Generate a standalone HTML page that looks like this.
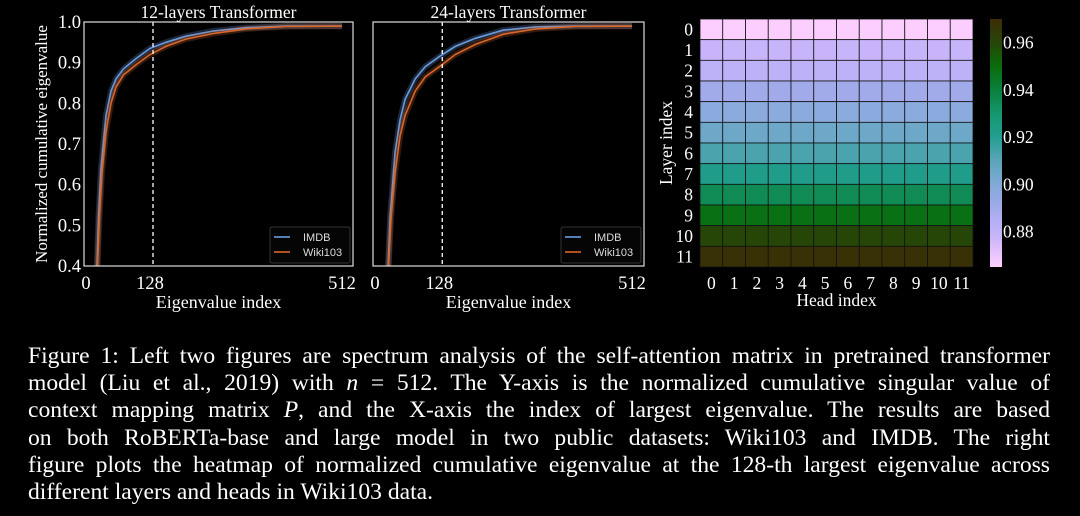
<!DOCTYPE html>
<html><head><meta charset="utf-8">
<style>
html,body{margin:0;padding:0;background:#000;width:1080px;height:516px;overflow:hidden}
svg text{font-family:"Liberation Serif",serif;fill:#fff}
#cap{position:absolute;left:28px;top:343px;width:1022px;font-family:"Liberation Serif",serif;font-size:23.6px;line-height:27.2px;color:#fff}
#cap div{text-align:justify;text-align-last:justify;white-space:nowrap}
#cap div.last{text-align-last:left}
</style></head><body>
<svg id="fig" width="1080" height="330" style="position:absolute;left:0;top:0"></svg>
<div id="cap">
<div>Figure 1: Left two figures are spectrum analysis of the self-attention matrix in pretrained transformer</div>
<div>model (Liu et al., 2019) with <i>n</i> = 512. The Y-axis is the normalized cumulative singular value of</div>
<div>context mapping matrix <i>P</i>, and the X-axis the index of largest eigenvalue. The results are based</div>
<div>on both RoBERTa-base and large model in two public datasets: Wiki103 and IMDB. The right</div>
<div>figure plots the heatmap of normalized cumulative eigenvalue at the 128-th largest eigenvalue across</div>
<div class="last">different layers and heads in Wiki103 data.</div>
</div>
<script>
const imdb12X=[22,25,30,40,50,60,75,100,128,160,200,256,320,400,512];
const imdb12Y=[0.40,0.52,0.64,0.77,0.83,0.86,0.885,0.91,0.935,0.95,0.965,0.978,0.986,0.99,0.99];
const wiki12X=[23,27,32,40,50,60,75,100,128,160,200,256,320,400,512];
const wiki12Y=[0.40,0.52,0.63,0.73,0.80,0.84,0.87,0.895,0.92,0.94,0.958,0.972,0.983,0.989,0.99];
const imdb24X=[26,30,40,50,60,80,100,128,160,200,256,320,400,512];
const imdb24Y=[0.40,0.52,0.68,0.76,0.81,0.86,0.89,0.915,0.94,0.96,0.98,0.988,0.99,0.99];
const wiki24X=[27,32,40,50,60,80,100,128,160,200,256,320,400,512];
const wiki24Y=[0.40,0.52,0.63,0.72,0.77,0.83,0.865,0.89,0.92,0.945,0.97,0.983,0.989,0.99];
const yTicks=[0.4,0.5,0.6,0.7,0.8,0.9,1.0];
const xTicks=[0,128,512];
const layerVals=[0.866,0.878,0.882,0.890,0.897,0.905,0.913,0.922,0.935,0.948,0.960,0.968];
const cbTicks=[0.88,0.90,0.92,0.94,0.96];

const NS="http://www.w3.org/2000/svg";
const svg=document.getElementById('fig');
function mk(t,a,p){const e=document.createElementNS(NS,t);for(const k in a)e.setAttribute(k,a[k]);(p||svg).appendChild(e);return e;}
function txt(x,y,s,size,anchor,p){const e=mk('text',{x:x,y:y,'font-size':size,'text-anchor':anchor||'middle'},p);e.textContent=s;return e;}

const panels=[
 {x0:84,x1:353,sx0:86,sx1:342,title:'12-layers Transformer',name:'panel-12-layers',series:[[imdb12X,imdb12Y,'#6a9be0','imdb'],[wiki12X,wiki12Y,'#d8662a','wiki103']],ylab:true},
 {x0:373,x1:644,sx0:375,sx1:632,title:'24-layers Transformer',name:'panel-24-layers',series:[[imdb24X,imdb24Y,'#6a9be0','imdb'],[wiki24X,wiki24Y,'#d8662a','wiki103']],ylab:false}
];
const yTop=22,yBot=266;
panels.forEach(P=>{
  const g=mk('g',{});
  
  
  const xs=v=>P.sx0+(v/512)*(P.sx1-P.sx0);
  const ys=v=>yBot-(v-0.4)/0.6*(yBot-yTop);
  P.series.forEach(s=>{
    let d='';s[0].forEach((x,i)=>{d+=(i?'L':'M')+xs(x).toFixed(1)+','+ys(s[1][i]).toFixed(1);});
    const h=mk('path',{d:d,fill:'none',stroke:s[2],'stroke-opacity':0.25,'stroke-width':6},g);
    
    
    const l=mk('path',{d:d,fill:'none',stroke:s[2],'stroke-width':1.6},g);
    
    
  });
  const dl=mk('line',{x1:xs(128)+3,x2:xs(128)+3,y1:yTop,y2:yBot,stroke:'#fff','stroke-width':1.3,'stroke-dasharray':'4,3'},g);
  
  
  const fr=mk('rect',{x:P.x0,y:yTop,width:P.x1-P.x0,height:yBot-yTop,fill:'none',stroke:'#ddd','stroke-width':1.2},g);
  
  
  const t=txt((P.x0+P.x1)/2,18,P.title,17.5,'middle',g);
  
  
  xTicks.forEach(v=>{const e=txt(xs(v),289,String(v),18.5,'middle',g);
    
    });
  const xl=txt((P.x0+P.x1)/2,308,'Eigenvalue  index',18,'middle',g);
  
  
  if(P.ylab){
    yTicks.forEach(v=>{const e=txt(81,ys(v)+6,v.toFixed(1),18.5,'end',g);
      
      });
    const yl=txt(0,0,'Normalized  cumulative  eigenvalue',17,'middle',g);
    yl.setAttribute('transform','translate(47,144) rotate(-90)');
    
    
  }
  const lx=P.x1-83,ly=yBot-39;
  const lg=mk('g',{},g);
  
  
  mk('rect',{x:lx,y:ly,width:80,height:36,rx:2,fill:'#050505',stroke:'#333'},lg);
  [['IMDB','#6a9be0'],['Wiki103','#d8662a']].forEach((e,i)=>{
    mk('line',{x1:lx+4,x2:lx+20,y1:ly+10+i*15,y2:ly+10+i*15,stroke:e[1],'stroke-width':1.6},lg);
    const tt=mk('text',{x:lx+33,y:ly+14+i*15,'font-size':11,'text-anchor':'start',style:'font-family:"Liberation Sans",sans-serif;fill:#ddd'},lg);
    tt.textContent=e[0];
  });
});

const stops=[[0.865,[255,208,255]],[0.878,[200,180,250]],[0.885,[180,175,245]],[0.892,[155,170,230]],[0.90,[130,170,215]],[0.91,[90,165,185]],[0.92,[35,158,145]],[0.93,[22,150,110]],[0.94,[10,128,60]],[0.95,[10,108,10]],[0.96,[38,70,8]],[0.97,[62,44,6]]];
function cmap(v){
  if(v<=stops[0][0])return stops[0][1];
  for(let i=1;i<stops.length;i++){if(v<=stops[i][0]){const a=stops[i-1],b=stops[i],t=(v-a[0])/(b[0]-a[0]);return a[1].map((c,k)=>Math.round(c+(b[1][k]-c)*t));}}
  return stops[stops.length-1][1];
}
const hx0=700,hx1=973,hy0=19,hy1=267,n=12;
const cw=(hx1-hx0)/n,ch=(hy1-hy0)/n;
const hg=mk('g',{});


layerVals.forEach((v,r)=>{
  for(let c=0;c<n;c++){
    const col=cmap(v);
    const cell=mk('rect',{x:hx0+c*cw,y:hy0+r*ch,width:cw,height:ch,fill:`rgb(${col})`,stroke:'#111','stroke-width':0.8},hg);
    
    
  }
  const lt=txt(693,hy0+r*ch+ch/2+6,String(r),17.5,'end',hg);
  
  
});
for(let c=0;c<n;c++){const e=txt(hx0+c*cw+cw/2,289,String(c),17.5,'middle',hg);
  
  }
const hl=txt((hx0+hx1)/2,306,'Head index',17.5,'middle',hg);


const ll=txt(0,0,'Layer index',17.5,'middle',hg);
ll.setAttribute('transform','translate(672,143) rotate(-90)');



const cb0=0.865,cb1=0.970,cx0=990,cx1=1002;
const cbs=v=>hy1-(v-cb0)/(cb1-cb0)*(hy1-hy0);
const defs=mk('defs',{});
const gr=mk('linearGradient',{id:'cbg',x1:0,y1:1,x2:0,y2:0},defs);
stops.forEach(s=>{mk('stop',{offset:((s[0]-cb0)/(cb1-cb0)).toFixed(3),'stop-color':`rgb(${s[1]})`},gr);});
const cb=mk('rect',{x:cx0,y:hy0,width:cx1-cx0,height:hy1-hy0,fill:'url(#cbg)'});


cbTicks.forEach(v=>{const e=txt(1003,cbs(v)+6,v.toFixed(2),17.5,'start');
  
  });
</script>
</body></html>
